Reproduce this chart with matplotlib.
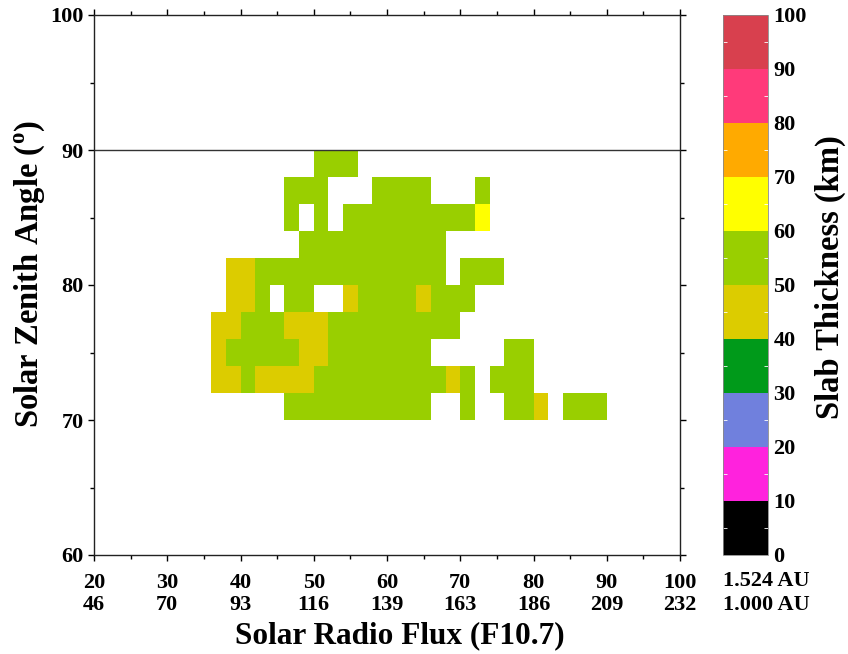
import numpy as np
import matplotlib
matplotlib.use('Agg')
import matplotlib.pyplot as plt
from matplotlib.colors import ListedColormap, BoundaryNorm

plt.rcParams['font.family'] = 'Liberation Serif'
plt.rcParams['font.weight'] = 'bold'
plt.rcParams['mathtext.fontset'] = 'custom'
plt.rcParams['mathtext.rm'] = 'Liberation Serif:bold'
plt.rcParams['mathtext.bf'] = 'Liberation Serif:bold'

# grid of 2x2 bins: left edges of columns and bottom edges of rows
x_edges = np.arange(36, 92, 2)      # 36 .. 90
y_edges = np.arange(70, 92, 2)      # 70 .. 90

# one string per row (bottom row first), one char per column 36..88
# '.' = no data, 'o' = 40-50 km, 'g' = 50-60 km, 'y' = 60-70 km
rows = [
    ".....gggggggggg..g..ggo.ggg",   # 70
    "oogoooogggggggggog.ggg.....",   # 72
    "ogggggooggggggg.....gg.....",   # 74
    "oogggoooggggggggg..........",   # 76
    ".oog.gg..oggggoggg.........",   # 78
    ".ooggggggggggggg.ggg.......",   # 80
    "......gggggggggg...........",   # 82
    ".....g.g.gggggggggy........",   # 84
    ".....ggg...gggg...g........",   # 86
    ".......ggg.................",   # 88
]
code_val = {'.': np.nan, 'o': 45, 'g': 55, 'y': 65}

# colour scale of slab thickness
levels = [0, 10, 20, 30, 40, 50, 60, 70, 80, 90, 100]
band_colors = ['#000000', '#FF22DD', '#7080DD', '#009A1A', '#DCCC00',
               '#99CF00', '#FFFF00', '#FFAA00', '#FF3A7A', '#D8404E']

flux_au15 = [20, 30, 40, 50, 60, 70, 80, 90, 100]
flux_au10 = [46, 70, 93, 116, 139, 163, 186, 209, 232]

vals = np.array([[code_val[c] for c in r] for r in rows], dtype=float)
vals = np.ma.masked_invalid(vals)

cmap = ListedColormap(band_colors)
norm = BoundaryNorm(levels, cmap.N)

fig = plt.figure(figsize=(8.48, 6.54), dpi=100)
ax = fig.add_axes([94/848, 1-555/654, (680-94)/848, (555-15)/654])
cax = fig.add_axes([723/848, 1-555/654, 45/848, (555-15)/654])

mesh = ax.pcolormesh(x_edges, y_edges, vals, cmap=cmap, norm=norm)
ax.axhline(90, color='#333333', lw=1.0)

ax.set_xlim(20, 100)
ax.set_ylim(60, 100)
ax.set_xticks(flux_au15)
ax.set_xticklabels([f'{a}\n{b}' for a, b in zip(flux_au15, flux_au10)],
                   fontsize=16, linespacing=1.15)
ax.set_xticks(np.arange(25, 100, 10), minor=True)
ax.set_yticks(np.arange(60, 101, 10))
ax.set_yticks(np.arange(65, 100, 10), minor=True)
ax.tick_params(axis='y', labelsize=16)
ax.tick_params(which='both', direction='out', top=True, right=True, length=4, width=1)
ax.tick_params(which='minor', length=3)
ax.tick_params(axis='x', pad=9)
for s in ax.spines.values():
    s.set_linewidth(1.0)
    s.set_color('#222222')

ax.set_xlabel('Solar Radio Flux (F10.7)', fontsize=22.5, fontweight='bold', va='center')
ax.xaxis.set_label_coords((400-94)/586, -(636-555)/540)
ax.set_ylabel(r'Solar Zenith Angle ($^{\mathrm{o}}$)', fontsize=23.5, fontweight='bold', va='center')
ax.yaxis.set_label_coords((30-94)/586, (555-274)/540)

cb = fig.colorbar(mesh, cax=cax, ticks=levels)
cb.outline.set_linewidth(0.6)
cb.outline.set_edgecolor('#888888')
cb.ax.tick_params(labelsize=16, length=0, pad=4)
cb.ax.set_yticks(np.arange(5, 100, 10), minor=True)
cb.ax.tick_params(which='minor', direction='in', color='white', length=3, width=0.6,
                  left=True, right=True)
cb.set_label('Slab Thickness (km)', fontsize=23.5, fontweight='bold', va='center')
cb.ax.yaxis.set_label_coords((830-723)/45, (555-277)/540)

fig.text(723/848, 1-581/654, '1.524 AU', fontsize=16, fontweight='bold', ha='left', va='center')
fig.text(723/848, 1-605/654, '1.000 AU', fontsize=16, fontweight='bold', ha='left', va='center')

fig.savefig('out.png', dpi=100)
